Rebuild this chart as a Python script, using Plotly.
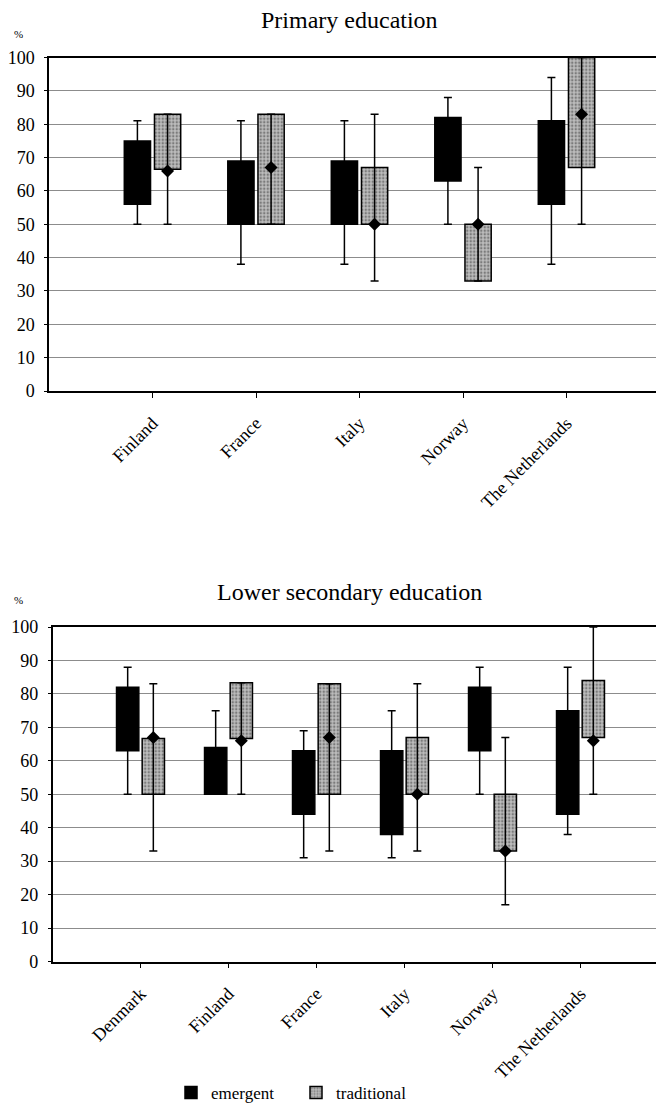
import plotly.graph_objects as go

# ---------------- data ----------------
primary_countries = ["Finland", "France", "Italy", "Norway", "The Netherlands"]
primary_emergent_min = [50, 38, 38, 50, 38]
primary_emergent_q1 = [56, 50, 50, 63, 56]
primary_emergent_med = [62, 60, 60, 72, 69]
primary_emergent_q3 = [75, 69, 69, 82, 81]
primary_emergent_max = [81, 81, 81, 88, 94]

primary_traditional_min = [50, 50, 33, 33, 50]
primary_traditional_q1 = [66.5, 50, 50, 33, 67]
primary_traditional_med = [66, 67, 50, 50, 83]
primary_traditional_q3 = [83, 83, 67, 50, 100]
primary_traditional_max = [83, 83, 83, 67, 100]

lower_countries = ["Denmark", "Finland", "France", "Italy", "Norway", "The Netherlands"]
lower_emergent_min = [50, 50, 31, 31, 50, 38]
lower_emergent_q1 = [63, 50, 44, 38, 63, 44]
lower_emergent_med = [72, 57, 54, 50, 72, 60]
lower_emergent_q3 = [82, 64, 63, 63, 82, 75]
lower_emergent_max = [88, 75, 69, 75, 88, 88]

lower_traditional_min = [33, 50, 33, 33, 17, 50]
lower_traditional_q1 = [50, 66.7, 50, 50, 33, 67]
lower_traditional_med = [67, 66, 67, 50, 33, 66]
lower_traditional_q3 = [66.7, 83.3, 83, 67, 50, 84]
lower_traditional_max = [83, 83.3, 83, 83, 67, 100]

y_ticks = [0, 10, 20, 30, 40, 50, 60, 70, 80, 90, 100]
series_names = ["emergent", "traditional"]

# ---------------- style ----------------
FONT = "Liberation Serif"
PAGE_OFFSET = 8               # default body margin of the html page
W, H = 664 - PAGE_OFFSET, 1107 - PAGE_OFFSET
EMERGENT_COLOR = "#000000"
TRAD_COLOR = "#a8a8a8"


def px_x(s):
    """screen x (px) -> paper fraction"""
    return (s - PAGE_OFFSET) / W


def px_y(s):
    """screen y (px from top) -> paper fraction"""
    return 1 - (s - PAGE_OFFSET) / H


fig = go.Figure()


def add_panel(countries, stats, xref, yref, show_legend):
    for name, (mn, q1, med, q3, mx) in zip(series_names, stats):
        is_trad = name == "traditional"
        marker = dict(
            color=TRAD_COLOR if is_trad else EMERGENT_COLOR,
            line=dict(color="black", width=1.5),
        )
        if is_trad:
            marker["pattern"] = dict(shape=".", fgcolor="#3a3a3a", bgcolor="#bdbdbd",
                                     size=3.5, solidity=0.4)
        fig.add_trace(go.Bar(
            x=countries,
            y=[b - a for a, b in zip(q1, q3)],
            base=q1,
            name=name,
            marker=marker,
            offsetgroup=name,
            legendgroup=name,
            showlegend=show_legend,
            xaxis=xref, yaxis=yref,
        ))
        fig.add_trace(go.Scatter(
            x=countries,
            y=med,
            mode="markers",
            marker=dict(symbol="diamond", color="black", size=10),
            error_y=dict(type="data", symmetric=False,
                         array=[b - a for a, b in zip(med, mx)],
                         arrayminus=[a - b for a, b in zip(med, mn)],
                         color="black", thickness=1.5, width=4),
            offsetgroup=name,
            legendgroup=name,
            showlegend=False,
            xaxis=xref, yaxis=yref,
            hoverinfo="skip",
        ))


add_panel(primary_countries,
          [(primary_emergent_min, primary_emergent_q1, primary_emergent_med,
            primary_emergent_q3, primary_emergent_max),
           (primary_traditional_min, primary_traditional_q1, primary_traditional_med,
            primary_traditional_q3, primary_traditional_max)],
          "x", "y", True)
add_panel(lower_countries,
          [(lower_emergent_min, lower_emergent_q1, lower_emergent_med,
            lower_emergent_q3, lower_emergent_max),
           (lower_traditional_min, lower_traditional_q1, lower_traditional_med,
            lower_traditional_q3, lower_traditional_max)],
          "x2", "y2", False)

# screen-pixel geometry of the two plot areas
top_left, top_step, top_y100, top_y0 = 49, 103.5, 57.5, 391.0
bot_left, bot_step, bot_y100, bot_y0 = 52.5, 88.0, 627.0, 961.5

axis_common = dict(showline=True, linecolor="black", linewidth=1.5)

xaxis_common = dict(
    axis_common, type="category", tickangle=-45, ticks="outside", ticklen=5,
    tickcolor="black", showgrid=False, mirror=True, fixedrange=True,
    tickfont=dict(family=FONT, size=18, color="black"), ticklabelstandoff=8,
)
yaxis_common = dict(
    axis_common, range=[0, 100], tickvals=y_ticks, ticks="outside", ticklen=3,
    tickcolor="black", showgrid=True, gridcolor="#8c8c8c", gridwidth=1,
    zeroline=False, tickfont=dict(family=FONT, size=18, color="black"),
    ticklabelstandoff=6, fixedrange=True,
)

ann_common = dict(xref="paper", yref="paper", showarrow=False,
                  xanchor="center", yanchor="middle")

fig.update_layout(
    width=W, height=H,
    margin=dict(l=0, r=0, t=0, b=0, autoexpand=False),
    paper_bgcolor="white", plot_bgcolor="white",
    barmode="group", bargap=0.417, bargroupgap=0.13,
    scattermode="group", scattergap=0.417,
    font=dict(family=FONT, color="black"),
    xaxis=dict(xaxis_common, anchor="y",
               domain=[px_x(top_left), 1],
               range=[-1, (664 - top_left) / top_step - 1]),
    yaxis=dict(yaxis_common, anchor="x",
               domain=[px_y(top_y0), px_y(top_y100)]),
    xaxis2=dict(xaxis_common, anchor="y2",
                domain=[px_x(bot_left), 1],
                range=[-1, (664 - bot_left) / bot_step - 1]),
    yaxis2=dict(yaxis_common, anchor="x2",
                domain=[px_y(bot_y0), px_y(bot_y100)]),
    legend=dict(orientation="h", x=px_x(171), y=px_y(1093), xanchor="left", yanchor="middle",
                font=dict(family=FONT, size=17, color="black"),
                entrywidth=80, entrywidthmode="pixels", traceorder="normal"),
    annotations=[
        dict(ann_common, text="Primary education", x=px_x(349), y=px_y(20),
             font=dict(family=FONT, size=24, color="black")),
        dict(ann_common, text="Lower secondary education", x=px_x(349), y=px_y(592),
             font=dict(family=FONT, size=24, color="black")),
        dict(ann_common, text="%", x=px_x(18), y=px_y(34),
             font=dict(family=FONT, size=11, color="black")),
        dict(ann_common, text="%", x=px_x(18), y=px_y(600),
             font=dict(family=FONT, size=11, color="black")),
    ],
)

fig.write_html("out.html")
